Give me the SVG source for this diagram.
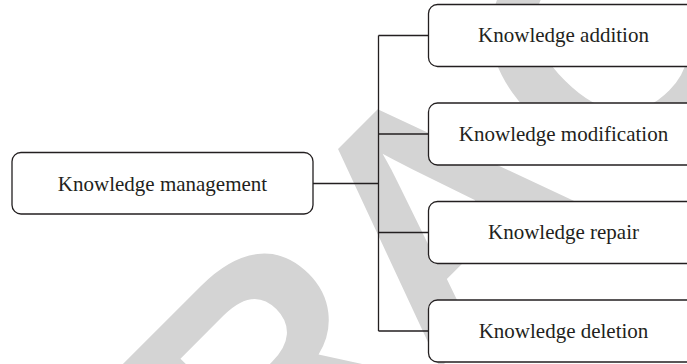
<svg xmlns="http://www.w3.org/2000/svg" width="687" height="364" viewBox="0 0 687 364">
<style>
.wm{font-family:"Liberation Sans",Arial,sans-serif;font-weight:bold;font-size:330px;fill:#d4d4d4;font-kerning:none}
.box{fill:#ffffff;stroke:#231f20;stroke-width:1.3}
.lbl{font-family:"Liberation Serif","Times New Roman",serif;font-size:21px;fill:#231f20;text-anchor:middle}
.con{fill:none;stroke:#231f20;stroke-width:1.3}
</style>
<rect x="0" y="0" width="687" height="364" fill="#ffffff"/>
<text class="wm" transform="translate(-201,1009) rotate(-45)">RETRACTED</text>
<g id="connectors">
<path class="con" d="M313,183.5 H378.5 M378.5,35.5 V331 M378.5,35.5 H428.5 M378.5,134 H428.5 M378.5,232.5 H428.5 M378.5,331 H428.5"/>
</g>
<g id="node-management">
<rect class="box" x="12" y="152.5" width="301" height="61.5" rx="9"/>
<text class="lbl" x="162.5" y="190.5">Knowledge management</text>
</g>
<g id="node-addition">
<rect class="box" x="428.5" y="4.5" width="270" height="62" rx="9"/>
<text class="lbl" x="563.5" y="42">Knowledge addition</text>
</g>
<g id="node-modification">
<rect class="box" x="428.5" y="103" width="270" height="62" rx="9"/>
<text class="lbl" x="563.5" y="140.5">Knowledge modification</text>
</g>
<g id="node-repair">
<rect class="box" x="428.5" y="201.5" width="270" height="62" rx="9"/>
<text class="lbl" x="563.5" y="239">Knowledge repair</text>
</g>
<g id="node-deletion">
<rect class="box" x="428.5" y="300" width="270" height="62" rx="9"/>
<text class="lbl" x="563.5" y="337.5">Knowledge deletion</text>
</g>
</svg>
